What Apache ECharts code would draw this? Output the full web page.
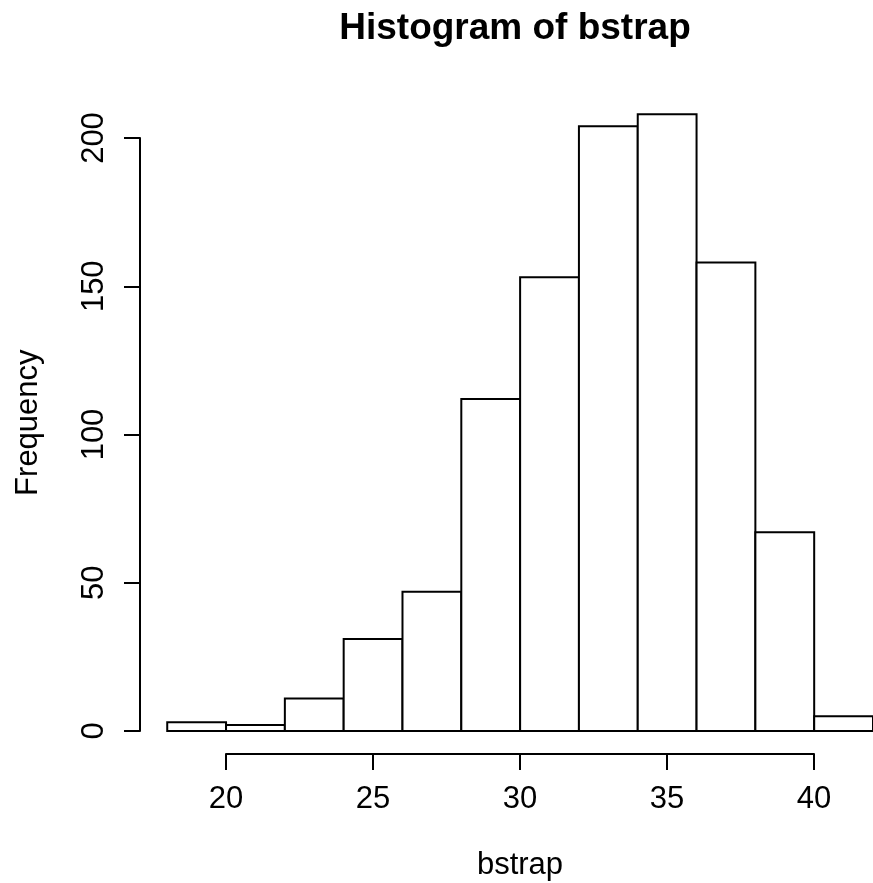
<!DOCTYPE html>
<html>
<head>
<meta charset="utf-8">
<script src="https://cdn.jsdelivr.net/npm/echarts@6/dist/echarts.min.js"></script>
<style>
html,body{margin:0;padding:0;background:#fff;}
#chart{width:873px;height:883px;}
</style>
</head>
<body>
<div id="chart"></div>
<script>
// Data
const binStarts = [18, 20, 22, 24, 26, 28, 30, 32, 34, 36, 38, 40];
const binEnds   = [20, 22, 24, 26, 28, 30, 32, 34, 36, 38, 40, 42];
const counts    = [3, 2, 11, 31, 47, 112, 153, 204, 208, 158, 67, 5];
const xTickLabels = [20, 25, 30, 35, 40];
const yTickLabels = [0, 50, 100, 150, 200];
const titleText = 'Histogram of bstrap';
const xName = 'bstrap';
const yName = 'Frequency';

const FONT = "'Liberation Sans', Arial, Helvetica, sans-serif";
const barData = binStarts.map((s, i) => [s, binEnds[i], counts[i]]);

// R-style plot region: data range extended by 4% (the reference is cropped at the right edge)
const xLo = Math.min(...binStarts), xHi = Math.max(...binEnds);
const yLo = 0, yHi = Math.max(...counts);
const xPad = (xHi - xLo) * 0.04, yPad = (yHi - yLo) * 0.04;

const chart = echarts.init(document.getElementById('chart'), null, {renderer: 'canvas'});
chart.setOption({
  backgroundColor: '#ffffff',
  animation: false,
  title: {
    text: titleText,
    left: 510,
    top: 5,
    textAlign: 'center',
    textStyle: {fontFamily: FONT, fontWeight: 'bold', fontSize: 37, color: '#000'}
  },
  grid: [
    {left: 139, right: 0, top: 89.6, bottom: 127.3},          // plot region
    {left: 140, width: 10, top: 138, bottom: 152},            // y axis (0..200)
    {left: 226, right: 59, top: 700, bottom: 129}             // x axis (20..40)
  ],
  xAxis: [
    {
      gridIndex: 0, type: 'value', min: xLo - xPad, max: xHi,
      axisLine: {show: false}, axisTick: {show: false}, axisLabel: {show: false}, splitLine: {show: false}
    },
    {gridIndex: 1, type: 'value', show: false, min: 0, max: 1},
    {
      gridIndex: 2, type: 'value', min: xTickLabels[0], max: xTickLabels[xTickLabels.length - 1], interval: 5,
      position: 'bottom',
      axisLine: {show: true, onZero: false, lineStyle: {color: '#000', width: 2}},
      axisTick: {show: true, length: 16, lineStyle: {color: '#000', width: 2}},
      axisLabel: {show: true, margin: 30, fontFamily: FONT, fontSize: 31, color: '#000'},
      splitLine: {show: false},
      name: xName, nameLocation: 'middle', nameGap: 96,
      nameTextStyle: {fontFamily: FONT, fontSize: 31, color: '#000'}
    }
  ],
  yAxis: [
    {
      gridIndex: 0, type: 'value', min: yLo - yPad, max: yHi + yPad,
      axisLine: {show: false}, axisTick: {show: false}, axisLabel: {show: false}, splitLine: {show: false},
      name: yName, nameLocation: 'middle', nameRotate: 90, nameGap: 95,
      nameTextStyle: {fontFamily: FONT, fontSize: 31, color: '#000'}
    },
    {
      gridIndex: 1, type: 'value', min: yTickLabels[0], max: yTickLabels[yTickLabels.length - 1], interval: 50,
      position: 'left',
      axisLine: {show: true, onZero: false, lineStyle: {color: '#000', width: 2}},
      axisTick: {show: true, length: 16, lineStyle: {color: '#000', width: 2}},
      axisLabel: {show: true, rotate: 90, margin: 30, fontFamily: FONT, fontSize: 31, color: '#000'},
      splitLine: {show: false}
    },
    {gridIndex: 2, type: 'value', show: false, min: 0, max: 1}
  ],
  series: [{
    type: 'custom',
    xAxisIndex: 0,
    yAxisIndex: 0,
    clip: false,
    data: barData,
    renderItem: function (params, api) {
      const p0 = api.coord([api.value(0), 0]);
      const p1 = api.coord([api.value(1), api.value(2)]);
      return {
        type: 'rect',
        shape: {x: p0[0], y: p1[1], width: p1[0] - p0[0], height: p0[1] - p1[1]},
        style: {fill: '#ffffff', stroke: '#000000', lineWidth: 2}
      };
    }
  }]
});
</script>
</body>
</html>
